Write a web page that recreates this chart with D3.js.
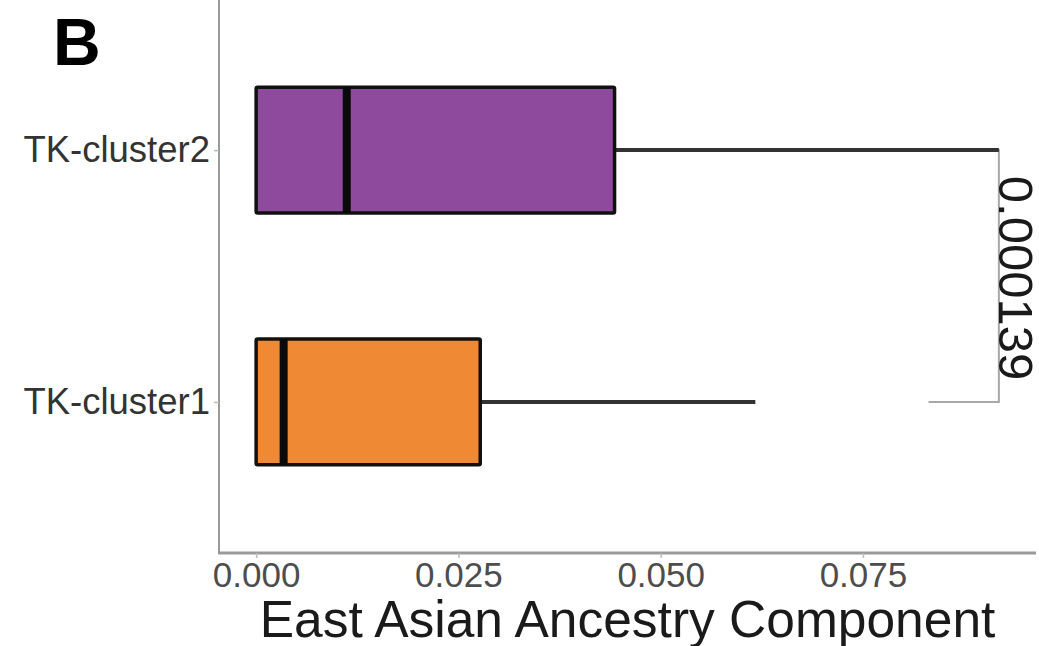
<!DOCTYPE html>
<html>
<head>
<meta charset="utf-8">
<script src="https://cdn.jsdelivr.net/npm/d3@7"></script>
<style>
  html, body { margin: 0; padding: 0; background: #ffffff; }
  svg { display: block; font-family: "Liberation Sans", Arial, Helvetica, sans-serif; }
</style>
</head>
<body>
<svg id="chart" width="1039" height="646"></svg>
<script>
// Groups, bottom to top
const categories = ["TK-cluster1", "TK-cluster2"];
const fillColors = ["#EF8933", "#8E4A9D"];

// Box-plot summaries per group (East Asian ancestry proportion)
const lowerWhisker = [0.0, 0.0];
const q1Values     = [0.0, 0.0];
const medianValues = [0.0034, 0.0112];
const q3Values     = [0.0277, 0.0443];
const upperWhisker = [0.0617, 0.0918];

// Axis ticks
const xTicks = [0.000, 0.025, 0.050, 0.075];
const xTickLabels = ["0.000", "0.025", "0.050", "0.075"];

// Significance annotation between the two groups
const pValueLabel = "0.000139";
const bracketPosition = [0.0918];
const bracketTip = [0.0087];

const axisTitle = "East Asian Ancestry Component";
const panelTag = "B";

const svg = d3.select("#chart");

const panel = { left: 219, right: 1036, top: -1, bottom: 553 };

// Continuous axis with 5% expansion on each side
const dataMin = 0;
const dataMax = d3.max(upperWhisker.concat(bracketPosition));
const pad = (dataMax - dataMin) * 0.05;
const x = d3.scaleLinear()
  .domain([dataMin - pad, dataMax + pad])
  .range([panel.left, panel.right]);

const y = d3.scalePoint()
  .domain(categories)
  .range([panel.bottom, panel.top])
  .padding(0.6);

const boxHalf = y.step() * 0.25;

const rows = categories.map((c, i) => ({
  cat: c,
  fill: fillColors[i],
  lo: lowerWhisker[i],
  q1: q1Values[i],
  med: medianValues[i],
  q3: q3Values[i],
  hi: upperWhisker[i]
}));

// Axis lines
const axisColor = "#9a9a9a";
svg.append("line")
  .attr("x1", panel.left).attr("x2", panel.left)
  .attr("y1", 0).attr("y2", panel.bottom)
  .attr("stroke", axisColor).attr("stroke-width", 2);
svg.append("line")
  .attr("x1", panel.left - 1).attr("x2", panel.right)
  .attr("y1", panel.bottom).attr("y2", panel.bottom)
  .attr("stroke", axisColor).attr("stroke-width", 3);

// X axis ticks and labels
const xAxis = d3.axisBottom(x)
  .tickValues(xTicks)
  .tickFormat((d, i) => xTickLabels[i])
  .tickSize(5)
  .tickPadding(4);
const gx = svg.append("g")
  .attr("transform", `translate(0,${panel.bottom})`)
  .call(xAxis);
gx.select(".domain").remove();
gx.selectAll(".tick line").attr("stroke", "#bbbbbb").attr("stroke-width", 1.5);
gx.selectAll(".tick text")
  .attr("fill", "#4d4d4d")
  .attr("font-size", 35)
  .attr("font-family", "Liberation Sans, Arial, sans-serif");

// Y axis ticks and labels
const yAxis = d3.axisLeft(y).tickSize(5).tickPadding(4);
const gy = svg.append("g")
  .attr("transform", `translate(${panel.left},0)`)
  .call(yAxis);
gy.select(".domain").remove();
gy.selectAll(".tick line").attr("stroke", "#bbbbbb").attr("stroke-width", 1.5);
gy.selectAll(".tick text")
  .attr("fill", "#333333")
  .attr("font-size", 36.5)
  .attr("font-family", "Liberation Sans, Arial, sans-serif");

// Significance bracket (drawn first so the whisker sits on top)
const bx = x(bracketPosition[0]);
const tipX = x(bracketPosition[0] - bracketTip[0]);
const yTop = y(categories[1]);
const yBot = y(categories[0]);
svg.append("path")
  .attr("d", `M${tipX},${yTop}H${bx}V${yBot}H${tipX}`)
  .attr("fill", "none")
  .attr("stroke", "#a8a8a8")
  .attr("stroke-width", 2);

// Whiskers
const g = svg.append("g");
g.selectAll("line.whisker-hi")
  .data(rows).enter().append("line")
  .attr("x1", d => x(d.q3)).attr("x2", d => x(d.hi))
  .attr("y1", d => y(d.cat)).attr("y2", d => y(d.cat))
  .attr("stroke", "#333333").attr("stroke-width", 4);
g.selectAll("line.whisker-lo")
  .data(rows.filter(d => d.lo < d.q1)).enter().append("line")
  .attr("x1", d => x(d.lo)).attr("x2", d => x(d.q1))
  .attr("y1", d => y(d.cat)).attr("y2", d => y(d.cat))
  .attr("stroke", "#333333").attr("stroke-width", 4);

// Boxes
g.selectAll("rect.box")
  .data(rows).enter().append("rect")
  .attr("x", d => x(d.q1))
  .attr("width", d => x(d.q3) - x(d.q1))
  .attr("y", d => y(d.cat) - boxHalf)
  .attr("height", boxHalf * 2)
  .attr("fill", d => d.fill)
  .attr("stroke", "#111111")
  .attr("stroke-width", 3.5)
  .attr("rx", 1.5);

// Medians
g.selectAll("line.median")
  .data(rows).enter().append("line")
  .attr("x1", d => x(d.med)).attr("x2", d => x(d.med))
  .attr("y1", d => y(d.cat) - boxHalf).attr("y2", d => y(d.cat) + boxHalf)
  .attr("stroke", "#0a0a0a").attr("stroke-width", 8);

// p-value label, rotated along the bracket
svg.append("text")
  .attr("transform", `translate(${bx},${(yTop + yBot) / 2 + 2}) rotate(90)`)
  .attr("text-anchor", "middle")
  .attr("font-size", 49)
  .attr("fill", "#1a1a1a")
  .text(pValueLabel);

// Axis title
svg.append("text")
  .attr("x", (panel.left + panel.right) / 2)
  .attr("y", 637)
  .attr("text-anchor", "middle")
  .attr("font-size", 51.5)
  .attr("fill", "#1a1a1a")
  .text(axisTitle);

// Panel tag
svg.append("text")
  .attr("x", 53)
  .attr("y", 65)
  .attr("font-size", 66)
  .attr("font-weight", "bold")
  .attr("fill", "#000000")
  .text(panelTag);
</script>
</body>
</html>
